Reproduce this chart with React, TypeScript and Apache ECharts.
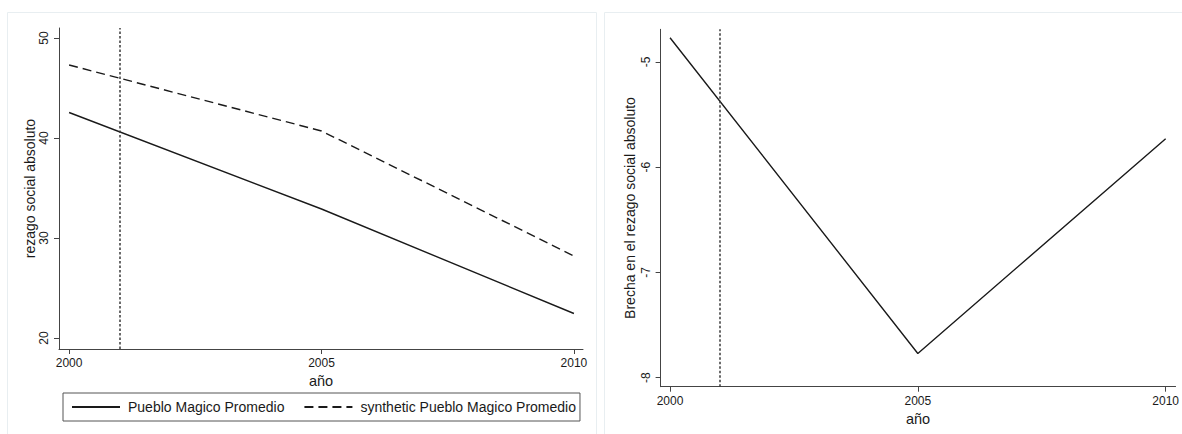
import React, { useEffect, useRef } from "react";
import * as echarts from "echarts";

const years = [2000, 2005, 2010];
const puebloMagico = [42.55, 32.9, 22.45];
const synthetic = [47.3, 40.7, 28.2];
const gap = [-4.77, -7.77, -5.73];
const treatmentYear = 2001;
const leftYTicks = [20, 30, 40, 50];
const rightYTicks = [-8, -7, -6, -5];
const xTicks = [2000, 2005, 2010];

const FONT = "'Liberation Sans', Arial, Helvetica, sans-serif";
const INK = "#1a1a1a";
const AXIS = "#444";

export default function App() {
  const ref = useRef<HTMLDivElement>(null);
  useEffect(() => {
    if (!ref.current) return;
    const chart = echarts.init(ref.current, null, { renderer: "svg" });
    const xAxisBase = (gridIndex: number, min: number, max: number) => ({
      type: "value",
      gridIndex,
      min,
      max,
      name: "año",
      nameLocation: "middle",
      nameGap: 21,
      nameTextStyle: { fontFamily: FONT, fontSize: 14.5, color: INK },
      axisLine: { show: true, onZero: false, lineStyle: { color: AXIS, width: 1 } },
      axisTick: { show: true, length: 5, lineStyle: { color: AXIS }, customValues: xTicks },
      axisLabel: {
        margin: 8,
        fontFamily: FONT,
        fontSize: 12,
        color: INK,
        customValues: xTicks,
        formatter: (v: number) => String(v),
      },
      splitLine: { show: false },
    });
    const yAxisBase = (gridIndex: number, min: number, max: number, ticks: number[], name: string, nameGap: number) => ({
      type: "value",
      gridIndex,
      min,
      max,
      name,
      nameLocation: "middle",
      nameGap,
      nameRotate: 90,
      nameTextStyle: { fontFamily: FONT, fontSize: 14, color: INK },
      axisLine: { show: true, onZero: false, lineStyle: { color: AXIS, width: 1 } },
      axisTick: { show: true, length: 5, lineStyle: { color: AXIS }, customValues: ticks },
      axisLabel: {
        rotate: 90,
        margin: 9,
        fontFamily: FONT,
        fontSize: 12,
        color: INK,
        customValues: ticks,
        formatter: (v: number) => String(v),
      },
      splitLine: { show: false },
    });
    const vline = {
      silent: true,
      symbol: ["none", "none"],
      label: { show: false },
      lineStyle: { color: "#3a3a3a", type: [2.5, 2], width: 1.5 },
      data: [{ xAxis: treatmentYear }],
    };
    chart.setOption({
      animation: false,
      backgroundColor: "#fff",
      textStyle: { fontFamily: FONT },
      graphic: [
        {
          type: "rect",
          silent: true,
          shape: { x: 7.5, y: 12.5, width: 589, height: 440 },
          style: { fill: "none", stroke: "#e8eef1", lineWidth: 1 },
        },
        {
          type: "rect",
          silent: true,
          shape: { x: 604.5, y: 12.5, width: 600, height: 440 },
          style: { fill: "none", stroke: "#e8eef1", lineWidth: 1 },
        },
      ],
      grid: [
        { left: 59, top: 28, width: 524, height: 321 },
        { left: 660.6, top: 29.3, width: 521, height: 357.4 },
      ],
      legend: {
        left: 63,
        top: 393,
        orient: "horizontal",
        itemWidth: 48,
        itemHeight: 12,
        itemGap: 19,
        padding: [7, 4, 7, 8],
        borderColor: "#555",
        borderWidth: 1,
        borderRadius: 0,
        itemStyle: { opacity: 0 },
        textStyle: { fontFamily: FONT, fontSize: 14, color: INK, padding: [0, 0, 0, 3] },
        data: ["Pueblo Magico Promedio", "synthetic Pueblo Magico Promedio"],
      },
      xAxis: [xAxisBase(0, 1999.8, 2010.18), xAxisBase(1, 1999.81, 2010.2)],
      yAxis: [
        yAxisBase(0, 18.9, 51.0, leftYTicks, "rezago social absoluto", 17),
        yAxisBase(1, -8.086, -4.69, rightYTicks, "Brecha en el rezago social absoluto", 24),
      ],
      series: [
        {
          name: "Pueblo Magico Promedio",
          type: "line",
          xAxisIndex: 0,
          yAxisIndex: 0,
          symbol: "none",
          data: years.map((y, i) => [y, puebloMagico[i]]),
          lineStyle: { color: INK, width: 1.4, type: "solid" },
          itemStyle: { color: INK },
          markLine: vline,
        },
        {
          name: "synthetic Pueblo Magico Promedio",
          type: "line",
          xAxisIndex: 0,
          yAxisIndex: 0,
          symbol: "none",
          data: years.map((y, i) => [y, synthetic[i]]),
          lineStyle: { color: INK, width: 1.4, type: [9, 5] },
          itemStyle: { color: INK },
        },
        {
          name: "Brecha",
          type: "line",
          xAxisIndex: 1,
          yAxisIndex: 1,
          symbol: "none",
          data: years.map((y, i) => [y, gap[i]]),
          lineStyle: { color: INK, width: 1.4, type: "solid" },
          itemStyle: { color: INK },
          markLine: vline,
        },
      ],
    });
    return () => chart.dispose();
  }, []);
  return (
    <div
      ref={ref}
      style={{ position: "fixed", left: 0, top: 0, width: 1182, height: 434, background: "#fff" }}
    />
  );
}
